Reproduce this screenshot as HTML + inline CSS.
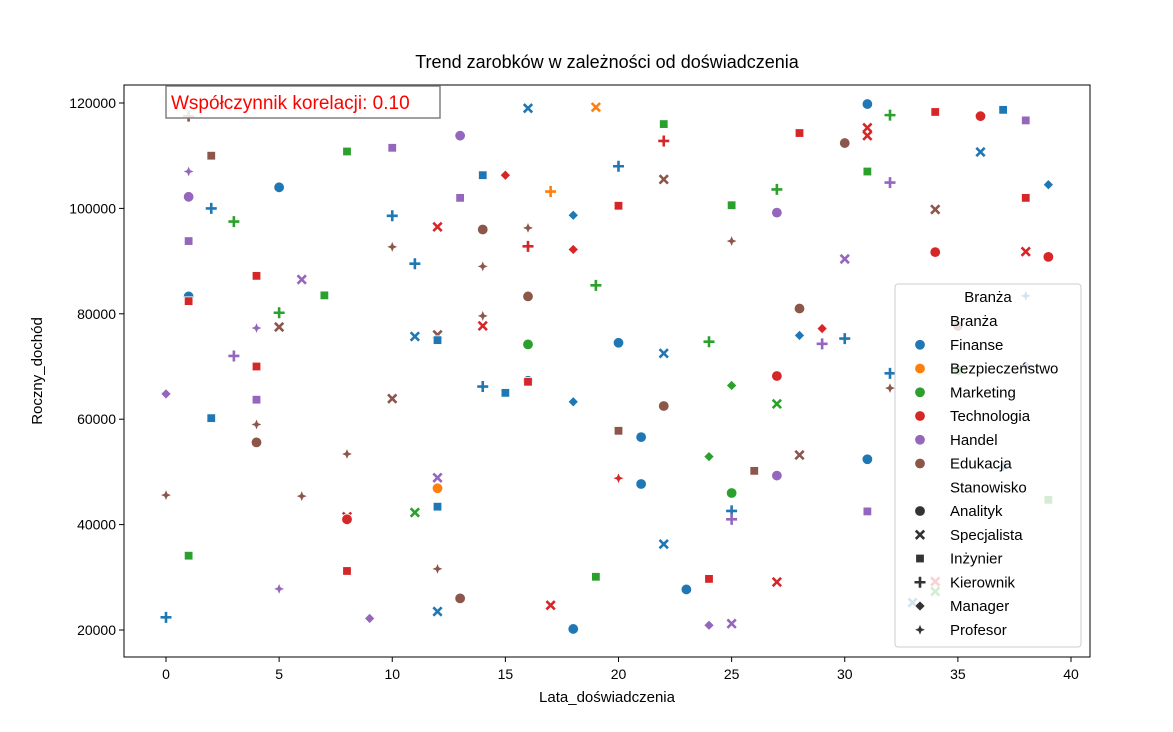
<!DOCTYPE html>
<html><head><meta charset="utf-8"><style>
body{margin:0;background:#fff;font-family:"Liberation Sans","DejaVu Sans",sans-serif}
svg text{font-family:"Liberation Sans","DejaVu Sans",sans-serif}
</style></head><body>
<svg id="chart" width="1173" height="727" xmlns="http://www.w3.org/2000/svg">
<rect width="1173" height="727" fill="#fff"/>
<text x="607" y="68" text-anchor="middle" font-size="18">Trend zarobków w zależności od doświadczenia</text>
<g id="marks"></g>
<rect x="124" y="85" width="966" height="572" fill="none" stroke="#000" stroke-width="1"/>
<g id="xt"></g>
<g id="yt"></g>
<text x="607" y="702" text-anchor="middle" font-size="15">Lata_doświadczenia</text>
<text transform="translate(42,371) rotate(-90)" text-anchor="middle" font-size="15">Roczny_dochód</text>
<g>
<rect x="166" y="86" width="274" height="32" fill="#fff" fill-opacity="0.85" stroke="#808080" stroke-width="1.5"/>
<text x="171" y="109" font-size="19" fill="#ff0000">Współczynnik korelacji: 0.10</text>
</g>
<g id="legend">
<rect x="895" y="284" width="186" height="363" rx="3" fill="#fff" fill-opacity="0.8" stroke="#ccc" stroke-width="1"/>
</g>
</svg>
<script>
const xVals=[
1,2,1,1,5,2,3,1,4,6,
7,1,1,5,4,5,3,4,8,10,
13,16,19,22,14,15,17,20,20,13,
10,12,14,16,18,10,16,18,11,14,
19,16,11,12,12,14,14,16,20,22,
22,22,0,2,4,4,4,8,10,14,
15,16,16,18,20,21,22,0,6,8,
8,11,12,12,12,1,8,12,5,0,
9,12,13,17,18,19,20,21,22,23,
24,24,24,24,25,25,25,25,25,25,
25,26,27,27,27,27,27,27,28,28,
28,28,29,29,30,30,30,31,31,31,
31,31,31,32,32,32,32,34,34,34,
36,36,37,38,38,39,38,39,38,35,
35,38,37,39,34,34,33];
const yVals=[
117500,110000,107000,102200,104000,100000,97500,93800,87200,86500,
83500,83300,82400,80200,77300,77500,72000,70000,110800,111500,
113800,119000,119200,116000,106300,106300,103200,108000,100500,102000,
98600,96500,96000,96300,98700,92700,92800,92200,89500,89000,
85400,83300,75700,76000,75000,79600,77700,74200,74500,72500,
112800,105500,64800,60200,63700,59000,55600,53400,63900,66200,
65000,67300,67100,63300,57800,56600,62500,45600,45400,41500,
41000,42300,48900,46900,43400,34100,31200,31600,27800,22400,
22200,23500,26000,24700,20200,30100,48800,47700,36300,27700,
29700,52900,74700,20900,21200,46000,42600,41000,66400,100600,
93800,50200,99200,103600,68200,62900,49300,29100,114300,81000,
75900,53200,77200,74300,75300,112400,90400,119800,115300,113800,
107000,52400,42500,117700,104900,68700,65900,118300,99800,91700,
117500,110700,118700,116700,102000,104500,91800,90800,83400,77700,
69300,70100,51000,44700,29200,27300,25200];
const industries=[
"E","E","H","H","F","F","M","H","T","H",
"M","F","T","M","H","E","H","T","M","H",
"H","F","B","M","F","T","B","F","T","H",
"F","T","E","E","F","E","T","T","F","E",
"M","E","F","E","F","E","T","M","F","F",
"T","E","H","F","H","E","E","E","E","F",
"F","F","T","F","E","F","E","E","E","T",
"T","M","H","B","F","M","T","E","H","F",
"H","F","E","T","F","M","T","F","F","F",
"T","M","M","H","H","M","F","H","M","M",
"E","E","H","M","T","M","H","T","T","E",
"F","E","T","H","F","E","H","F","T","T",
"M","F","H","M","H","F","E","T","E","T",
"T","F","F","H","T","F","T","T","F","E",
"M","H","F","M","T","M","F"];
const roles=[
"K","I","P","A","A","K","K","I","I","S",
"I","A","I","K","P","S","K","I","I","I",
"A","S","S","I","I","M","K","K","I","I",
"K","S","A","P","M","P","K","M","K","P",
"K","A","S","S","I","P","S","A","A","S",
"K","S","M","I","I","P","A","P","S","K",
"I","A","I","M","I","A","A","P","P","S",
"A","S","S","A","I","I","I","P","P","K",
"M","S","A","S","A","I","P","A","S","A",
"I","M","K","M","S","A","K","K","M","I",
"P","I","A","K","A","S","A","S","I","A",
"M","S","M","K","K","A","S","A","S","S",
"I","A","I","K","K","K","P","I","S","A",
"A","S","I","I","I","M","S","A","P","A",
"A","M","M","I","S","S","S"];
const industryNames=["Finanse","Bezpieczeństwo","Marketing","Technologia","Handel","Edukacja"];
const industryKeys=["F","B","M","T","H","E"];
const roleNames=["Analityk","Specjalista","Inżynier","Kierownik","Manager","Profesor"];
const roleKeys=["A","S","I","K","M","P"];
const xTicks=[0,5,10,15,20,25,30,35,40];
const yTicks=[20000,40000,60000,80000,100000,120000];
const colors={F:"#1f77b4",B:"#ff7f0e",M:"#2ca02c",T:"#d62728",H:"#9467bd",E:"#8c564b"};
const NS="http://www.w3.org/2000/svg";
const X=v=>166+v*22.625;
const Y=v=>630-(v-20000)*0.00527;
function el(t,a,p){const e=document.createElementNS(NS,t);for(const k in a)e.setAttribute(k,a[k]);p.appendChild(e);return e;}
function marker(role,cx,cy,col,p,s){
 s=s||1;let e;
 if(role==="A")e=el("circle",{cx,cy,r:5.3*s,fill:col,stroke:"#fff","stroke-width":0.8},p);
 else if(role==="I")e=el("rect",{x:cx-4.3*s,y:cy-4.3*s,width:8.6*s,height:8.6*s,fill:col,stroke:"#fff","stroke-width":0.8},p);
 else if(role==="M"){const d=5.2*s;e=el("polygon",{points:`${cx},${cy-d} ${cx+d},${cy} ${cx},${cy+d} ${cx-d},${cy}`,fill:col,stroke:"#fff","stroke-width":0.8},p);}
 else if(role==="P"){const a=5.5*s,b=1.6*s;e=el("polygon",{points:`${cx},${cy-a} ${cx+b},${cy-b} ${cx+a},${cy} ${cx+b},${cy+b} ${cx},${cy+a} ${cx-b},${cy+b} ${cx-a},${cy} ${cx-b},${cy-b}`,fill:col,stroke:"#fff","stroke-width":0.5},p);}
 else if(role==="K"){const a=5.5*s;e=el("path",{d:`M${cx-a},${cy}H${cx+a}M${cx},${cy-a}V${cy+a}`,stroke:col,"stroke-width":2.6*s,fill:"none"},p);}
 else {const a=4.2*s;e=el("path",{d:`M${cx-a},${cy-a}L${cx+a},${cy+a}M${cx+a},${cy-a}L${cx-a},${cy+a}`,stroke:col,"stroke-width":2.6*s,fill:"none"},p);}
 return e;
}
const g=document.getElementById("marks");
for(let i=0;i<xVals.length;i++){
 const m=marker(roles[i],X(xVals[i]),Y(yVals[i]),colors[industries[i]],g);
 
 
}
const xt=document.getElementById("xt");
xTicks.forEach(v=>{el("line",{x1:X(v),x2:X(v),y1:657,y2:662,stroke:"#000"},xt);const t=el("text",{x:X(v),y:679,"text-anchor":"middle","font-size":14},xt);t.textContent=v;
 
 });
const yt=document.getElementById("yt");
yTicks.forEach(v=>{el("line",{x1:119,x2:124,y1:Y(v),y2:Y(v),stroke:"#000"},yt);const t=el("text",{x:116,y:Y(v)+5,"text-anchor":"end","font-size":14},yt);t.textContent=v;
 
 });
const lg=document.getElementById("legend");
function lt(x,y,s,anchor){const t=el("text",{x,y,"font-size":15,"text-anchor":anchor||"start"},lg);t.textContent=s;return t;}
lt(988,302,"Branża","middle");
let y0=321,dy=23.75;
lt(950,y0+5,"Branża");
industryKeys.forEach((k,i)=>{const y=y0+dy*(i+1);const m=marker("A",920,y,colors[k],lg);
 
 
 lt(950,y+5,industryNames[i]);});
lt(950,y0+dy*7+5,"Stanowisko");
roleKeys.forEach((k,i)=>{const y=y0+dy*(8+i);const m=marker(k,920,y,"#333",lg);
 
 
 lt(950,y+5,roleNames[i]);});
</script>
</body></html>
